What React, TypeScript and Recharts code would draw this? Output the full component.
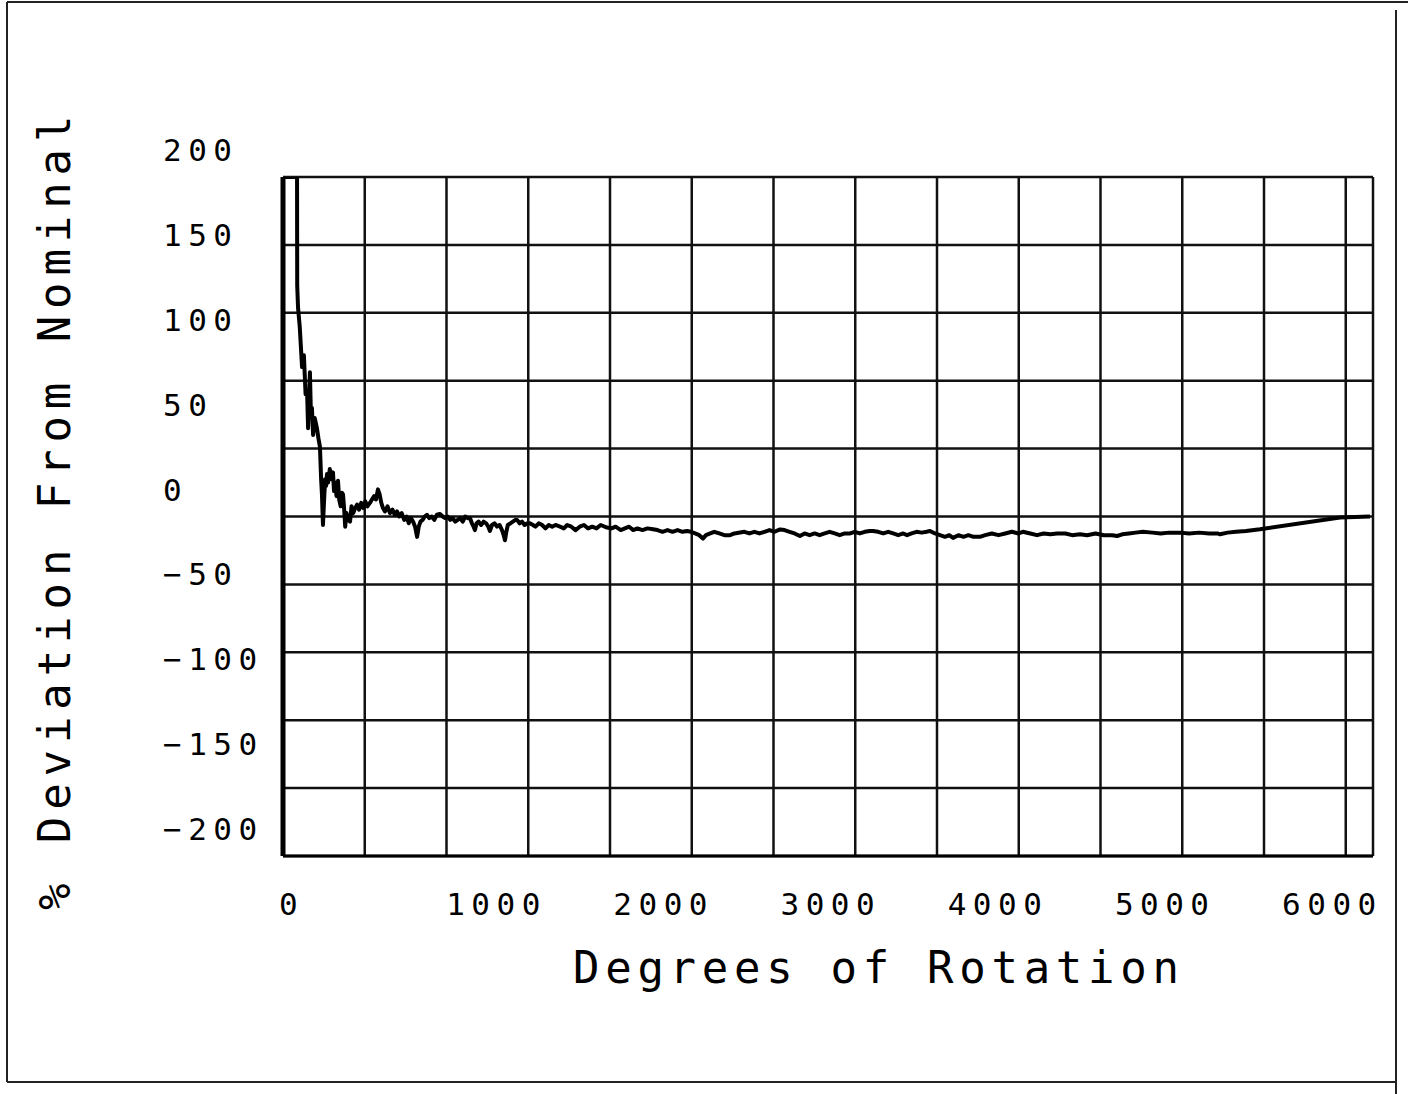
import React from 'react'
import {
  LineChart,
  Line,
  XAxis,
  YAxis,
  CartesianGrid,
} from 'recharts'

// degrees of rotation
const rotation = [
  0, 40, 84, 85, 90, 100, 114, 125, 135, 144, 150, 161, 167, 173, 180, 190, 203, 212, 221, 228,
  233, 239, 245, 252, 258, 263, 270, 280, 290, 299, 305, 312, 320, 329, 336, 345, 352, 359, 366, 372,
  380, 390, 401, 410, 420, 432, 443, 455, 468, 480, 492, 505, 520, 532, 545, 556, 568, 578, 588, 598,
  610, 625, 640, 655, 668, 682, 695, 710, 725, 740, 752, 765, 778, 790, 802, 812, 822, 835, 848, 861,
  875, 890, 905, 920, 939, 955, 970, 985, 1000, 1015, 1030, 1045, 1060, 1075, 1090, 1105, 1119, 1130, 1140, 1148,
  1158, 1170, 1185, 1200, 1215, 1228, 1238, 1250, 1265, 1280, 1295, 1310, 1320, 1328, 1336, 1345, 1360, 1375, 1390, 1400,
  1415, 1430, 1445, 1460, 1477, 1495, 1510, 1530, 1550, 1570, 1590, 1610, 1630, 1657, 1680, 1700, 1725, 1750, 1775, 1800,
  1825, 1850, 1875, 1900, 1938, 1965, 1990, 2020, 2045, 2070, 2095, 2120, 2150, 2180, 2213, 2240, 2270, 2300, 2330, 2360,
  2390, 2417, 2440, 2465, 2490, 2512, 2530, 2555, 2580, 2610, 2640, 2674, 2700, 2734, 2760, 2790, 2820, 2850, 2880, 2910,
  2940, 2973, 3000, 3030, 3060, 3092, 3120, 3150, 3180, 3210, 3240, 3270, 3300, 3330, 3360, 3392, 3420, 3450, 3480, 3510,
  3529, 3560, 3590, 3620, 3650, 3680, 3710, 3733, 3760, 3790, 3820, 3850, 3870, 3900, 3930, 3960, 3985, 4008, 4040, 4070,
  4100, 4130, 4169, 4200, 4240, 4280, 4320, 4360, 4400, 4426, 4470, 4510, 4550, 4590, 4630, 4680, 4720, 4767, 4810, 4860,
  4910, 4960, 4989, 5020, 5060, 5100, 5144, 5200, 5250, 5300, 5365, 5420, 5480, 5540, 5590, 5605, 5650, 5700, 5760, 5844,
  6323, 6502,
]

// % deviation from nominal
const deviation = [
  200, 200, 200, 136, 123, 112, 88, 95, 72, 74, 52, 85, 60, 64, 48, 58, 52, 46, 41, 22,
  13, -5, 8, 22, 18, 25, 20, 28, 22, 26, 15, 20, 12, 21, 10, 6, 14, 13, 4, -6,
  2, -2, -3, 6, 2, 5, 7, 4, 8, 5, 9, 6, 8, 10, 12, 10, 16, 13, 8, 5,
  3, 6, 2, 4, 1, 3, 0, 2, -2, 0, -4, -1, -3, -6, -12, -6, -3, -2, 0, 1,
  -1, 0, -2, 1, 1.5, 0, -1, 0, -2, -1, -3, -2, -1, -3, 0, -1, -1, -4, -6, -8,
  -4, -3, -5, -3, -4, -6, -8.5, -5, -4, -6, -5, -8, -11, -14, -9, -5, -4, -3, -2, -2,
  -4, -3, -5, -4, -4, -5, -6, -4, -5, -7, -5, -6, -5, -6, -7, -5, -6, -8, -6, -5,
  -7, -6, -7, -5, -6.5, -7, -6, -8, -7, -6, -8, -7, -8, -7, -7.5, -8, -9, -8, -9, -8,
  -9, -8.5, -9, -10, -11, -13, -11, -10, -9, -10, -11, -11, -10, -9.4, -9, -10, -9, -10, -9, -8,
  -9, -7.6, -8, -9, -10, -11.5, -10, -11, -10, -11, -10, -9, -10, -11, -10, -10, -9, -10, -9, -8.5,
  -8.5, -9, -10, -9, -10, -11, -10, -11, -10, -9, -9.5, -9, -8.5, -10, -11, -12, -11, -12.6, -11, -12,
  -11, -12, -12, -11, -10, -11, -10, -9, -10, -9, -10, -11, -10, -10.5, -10, -10, -11, -10.5, -11, -10,
  -11, -11, -11.5, -10.5, -10, -9.5, -9, -9.5, -10, -9.5, -9.5, -10, -9.5, -10, -10, -10.5, -9.5, -9, -8.5, -7.5,
  -0.6, 0,
]

const xTicks = [0, 1000, 2000, 3000, 4000, 5000, 6000]
const yTicks = [-200, -150, -100, -50, 0, 50, 100, 150, 200]
const gridX = [0, 489, 978, 1467, 1956, 2445, 2934, 3423, 3912, 4401, 4890, 5379, 5868, 6357, 6520]
const gridY = [-200, -160, -120, -80, -40, 0, 40, 80, 120, 160, 200]

const data = rotation.map((r, i) => ({ r, dev: deviation[i] }))

const FONT = '"DejaVu Sans Mono", monospace'

const XTick = (props: any) => {
  const { x, payload } = props
  return (
    <text x={x - 4} y={915} textAnchor="start" fontFamily={FONT} fontSize={31} letterSpacing={6.5} fill="#000">
      {payload.value}
    </text>
  )
}

const YTick = (props: any) => {
  const { y, payload } = props
  const label = String(payload.value).replace('-', '\u2212')
  return (
    <text x={163} y={y - 16} textAnchor="start" fontFamily={FONT} fontSize={31} letterSpacing={6.5} fill="#000">
      {label}
    </text>
  )
}

export default function App() {
  return (
    <div style={{ position: 'fixed', top: 0, left: 0, width: 1408, height: 1094, background: '#fff' }}>
      <svg width={1408} height={1094} style={{ position: 'absolute', top: 0, left: 0 }}>
        {/* page edges of the scan */}
        <line x1={7} y1={2} x2={1408} y2={2} stroke="#222" strokeWidth={2} />
        <line x1={7} y1={2} x2={7} y2={1082} stroke="#222" strokeWidth={2} />
        <line x1={7} y1={1082} x2={1396} y2={1082} stroke="#222" strokeWidth={2} />
        <line x1={1396} y1={10} x2={1396} y2={1094} stroke="#222" strokeWidth={2} />
        <text x={573} y={983} fontFamily={FONT} fontSize={44} letterSpacing={5.7} fill="#000">
          Degrees of Rotation
        </text>
        <text
          x={70}
          y={910}
          transform="rotate(-90 70 910)"
          fontFamily={FONT}
          fontSize={44}
          letterSpacing={6.9}
          fill="#000"
        >
          % Deviation From Nominal
        </text>
      </svg>
      <div style={{ position: 'absolute', top: 0, left: 0 }}>
        <LineChart
          width={1408}
          height={1094}
          data={data}
          margin={{ top: 177, right: 35, bottom: 178, left: 150 }}
        >
          <CartesianGrid
            stroke="#111"
            strokeWidth={2.5}
            fill="none"
            horizontalValues={gridY}
            verticalValues={gridX}
          />
          <XAxis
            dataKey="r"
            type="number"
            domain={[0, 6520]}
            ticks={xTicks}
            height={60}
            axisLine={{ stroke: '#000', strokeWidth: 3 }}
            tickLine={false}
            tick={<XTick />}
            interval={0}
            allowDataOverflow
          />
          <YAxis
            type="number"
            domain={[-200, 200]}
            ticks={yTicks}
            width={133}
            axisLine={{ stroke: '#000', strokeWidth: 5 }}
            tickLine={false}
            tick={<YTick />}
            interval={0}
            allowDataOverflow
          />
          <Line
            type="linear"
            dataKey="dev"
            stroke="#000"
            strokeWidth={4}
            strokeLinejoin="round"
            dot={false}
            isAnimationActive={false}
          />
        </LineChart>
      </div>
    </div>
  )
}
